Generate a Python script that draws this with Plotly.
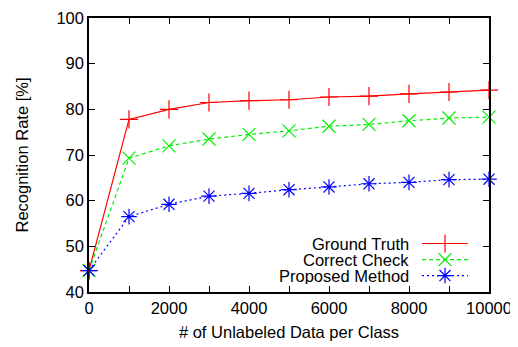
import plotly.graph_objects as go

x_vals = [0, 1000, 2000, 3000, 4000, 5000, 6000, 7000, 8000, 9000, 10000]
ground_truth = [44.7, 77.8, 80.0, 81.5, 81.9, 82.1, 82.7, 82.9, 83.4, 83.8, 84.2]
correct_check = [44.7, 69.3, 72.0, 73.5, 74.5, 75.3, 76.3, 76.7, 77.5, 78.1, 78.3]
proposed = [44.7, 56.5, 59.2, 61.0, 61.6, 62.4, 63.0, 63.7, 64.0, 64.6, 64.7]
x_ticks = [0, 2000, 4000, 6000, 8000, 10000]
x_ticktext = ["0", "2000", "4000", "6000", "8000", "10000"]
names = ["Ground Truth", "Correct Check", "Proposed Method"]
colors = ["#ff0000", "#00ee00", "#0000ff"]
dashes = ["solid", "4px,3px", "2px,3px"]
symbols = ["cross-thin-open", "x-thin-open", "asterisk-open"]
series = [ground_truth, correct_check, proposed]

FONT = "Liberation Sans, Arial, sans-serif"
FS = 16.5
fig = go.Figure()
for nm, ys, c, d, s in zip(names, series, colors, dashes, symbols):
    fig.add_trace(go.Scatter(x=x_vals, y=ys, name=nm, mode="lines+markers",
                             line=dict(color=c, width=1.2, dash=d), cliponaxis=False,
                             marker=dict(symbol=s, size=13, color=c, line=dict(color=c, width=1.2)),
                             showlegend=False))

# custom legend (text left, sample right) on an overlay axis in [0,1]
leg_y = [0.177, 0.118, 0.060]
for nm, c, d, s, ly in zip(names, colors, dashes, symbols, leg_y):
    fig.add_trace(go.Scatter(x=[0.8325, 0.9475], y=[ly, ly], xaxis="x2", yaxis="y2",
                             mode="lines", line=dict(color=c, width=1.2, dash=d),
                             showlegend=False, hoverinfo="skip"))
    fig.add_trace(go.Scatter(x=[0.89], y=[ly], xaxis="x2", yaxis="y2", mode="markers",
                             marker=dict(symbol=s, size=13, color=c, line=dict(color=c, width=1.2)),
                             showlegend=False, hoverinfo="skip"))
    fig.add_annotation(x=0.805, y=ly, xref="x2", yref="y2", text=nm, showarrow=False,
                       xanchor="right", yanchor="middle", height=17,
                       font=dict(family=FONT, size=FS, color="black"))

axis_common = dict(showline=True, linecolor="black", linewidth=1.5, mirror="ticks",
                   ticks="inside", ticklen=6, tickcolor="black", showgrid=False,
                   zeroline=False, automargin=False, ticklabeloverflow="allow",
                   tickfont=dict(family=FONT, size=FS, color="black"))
fig.update_layout(
    width=510, height=339,
    margin=dict(l=81, r=29, t=10, b=55),
    paper_bgcolor="white", plot_bgcolor="white",
    xaxis=dict(range=[0, 10000], tickvals=x_ticks, ticktext=x_ticktext,
               minor=dict(dtick=1000, tick0=0, ticks="inside", ticklen=6, tickcolor="black"),
               title=dict(text="# of Unlabeled Data per Class", standoff=11,
                          font=dict(family=FONT, size=FS, color="black")),
               **axis_common),
    yaxis=dict(range=[40, 100], dtick=10,
               title=dict(text="Recognition Rate [%]", standoff=24,
                          font=dict(family=FONT, size=FS, color="black")),
               **axis_common),
    xaxis2=dict(range=[0, 1], overlaying="x", visible=False, fixedrange=True),
    yaxis2=dict(range=[0, 1], overlaying="y", visible=False, fixedrange=True),
)
fig.write_html("out.html")
